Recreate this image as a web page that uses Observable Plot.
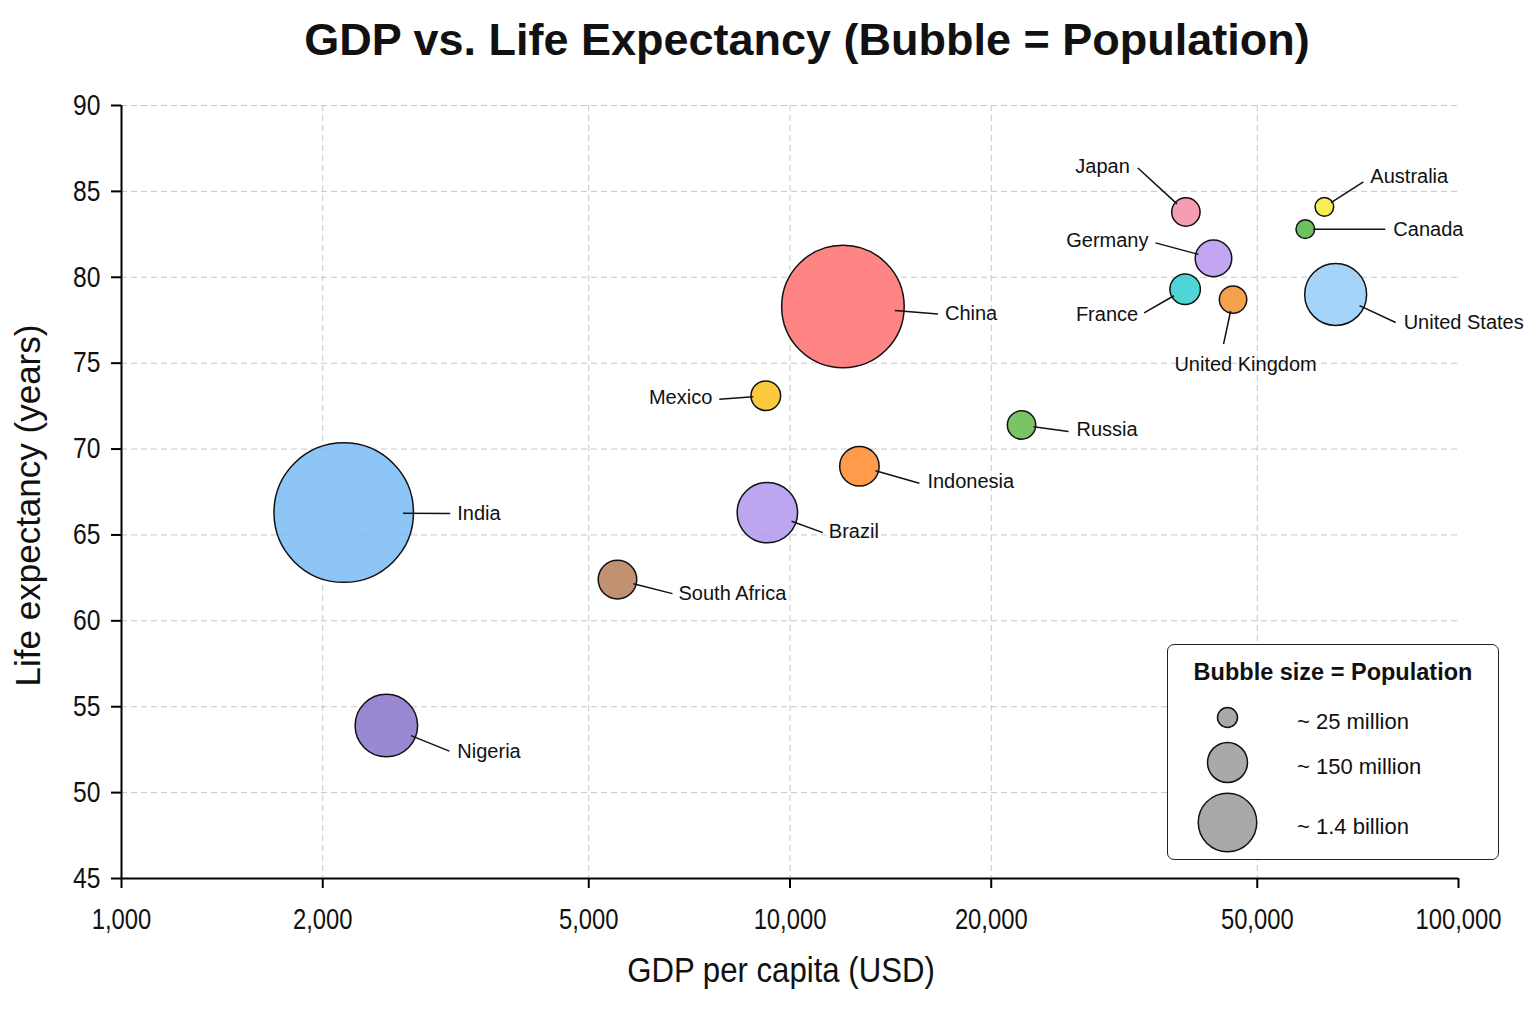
<!DOCTYPE html>
<html>
<head>
<meta charset="utf-8">
<script src="https://cdn.jsdelivr.net/npm/d3@7"></script>
<script src="https://cdn.jsdelivr.net/npm/@observablehq/plot@0.6"></script>
<style>
  html, body { margin: 0; padding: 0; background: #fff; }
  #page { position: relative; width: 1536px; height: 1024px; overflow: hidden; background: #fff; }
  #title {
    box-sizing: border-box; height: 70px; padding-top: 17px; padding-left: 78px; text-align: center;
    font: bold 45px/45px "Liberation Sans", Arial, sans-serif; color: #111;
  }
  #chart svg { display: block; }
  #legend {
    position: absolute; left: 1167px; top: 644px; width: 332px; height: 216px;
    box-sizing: border-box; border: 1.5px solid #222; border-radius: 7px; background: #fff;
  }
  #legend svg { position: absolute; left: 0; top: 0; }
  #legend-title {
    position: absolute; left: 0; right: 0; top: 16px; z-index: 1; text-align: center;
    font: bold 23.5px/23.5px "Liberation Sans", Arial, sans-serif; color: #111;
  }
</style>
</head>
<body>
<div id="page">
  <div id="title">GDP vs. Life Expectancy (Bubble = Population)</div>
  <div id="chart"></div>
  <div id="legend"><div id="legend-title">Bubble size = Population</div></div>
</div>
<script>
// ---- data -------------------------------------------------------------
const countries = [
  "India", "China", "United States", "Brazil", "Nigeria", "Indonesia", "Mexico", "Russia",
  "South Africa", "Japan", "Australia", "Canada", "Germany", "France", "United Kingdom"
];
const gdpPerCapita = [2150, 12000, 65500, 9250, 2490, 12700, 9200, 22200, 5520, 39100, 63000, 59000, 43000, 39000, 46000];
const lifeExpectancy = [66.3, 78.3, 79.0, 66.3, 53.9, 69.0, 73.1, 71.4, 62.4, 83.8, 84.1, 82.8, 81.1, 79.3, 78.7];
const populationMillions = [1400, 1080, 276, 263, 281, 112, 63, 58, 107, 58, 25, 25, 96, 67, 54];
const bubbleColors = [
  "#7ebdf6", "#ff7474", "#9acdf7", "#b49aee", "#8d77cc", "#ff8d31", "#fac223", "#69bc51",
  "#b9825d", "#f68fa9", "#f8ea3e", "#59b748", "#bb9aef", "#37cfcf", "#f59334"
];
const xTickValues = [1000, 2000, 5000, 10000, 20000, 50000, 100000];
const yTickValues = [45, 50, 55, 60, 65, 70, 75, 80, 85, 90];
const legendPopulations = [25, 150, 1400];
const legendLabels = ["~ 25 million", "~ 150 million", "~ 1.4 billion"];
const xTitle = "GDP per capita (USD)";
const yTitle = "Life expectancy (years)";

// ---- annotation layout (pixel offsets from each bubble centre) ---------
// dx/dy: where the label is anchored; lx/ly: where its leader line ends.
const labelLayout = {
  "India":          {dx: 113.5, dy: 1,     lx: 106.5, ly: 1,    anchor: "start"},
  "China":          {dx: 102,   dy: 7.5,   lx: 95,    ly: 7.5,  anchor: "start"},
  "United States":  {dx: 68,    dy: 28,    lx: 60,    ly: 28,   anchor: "start"},
  "Brazil":         {dx: 61.5,  dy: 19,    lx: 55.5,  ly: 20,   anchor: "start"},
  "Nigeria":        {dx: 71,    dy: 25.5,  lx: 63,    ly: 25.5, anchor: "start"},
  "Indonesia":      {dx: 68,    dy: 15,    lx: 60,    ly: 17,   anchor: "start"},
  "Mexico":         {dx: -53.5, dy: 1.5,   lx: -46.5, ly: 3.5,  anchor: "end"},
  "Russia":         {dx: 55,    dy: 4.5,   lx: 47,    ly: 6.5,  anchor: "start"},
  "South Africa":   {dx: 61,    dy: 14,    lx: 55,    ly: 14,   anchor: "start"},
  "Japan":          {dx: -56,   dy: -45,   lx: -48,   ly: -44,  anchor: "end"},
  "Australia":      {dx: 46,    dy: -30,   lx: 39,    ly: -25,  anchor: "start"},
  "Canada":         {dx: 88,    dy: 0,     lx: 80,    ly: 0,    anchor: "start"},
  "Germany":        {dx: -65,   dy: -17.5, lx: -58,   ly: -15.5, anchor: "end"},
  "France":         {dx: -47,   dy: 25.5,  lx: -41,   ly: 23.5, anchor: "end"},
  "United Kingdom": {dx: 12.5,  dy: 64.5,  lx: -9.5,  ly: 44.5, anchor: "middle"}
};

// ---- frame & scales ------------------------------------------------------
const W = 1536, H = 954;
const M = {top: 35, right: 78, bottom: 146, left: 121};
const SANS = '"Liberation Sans", Arial, sans-serif';
const INK = "#111";

const xOptions = {type: "log", domain: [1000, 100000], range: [M.left, W - M.right]};
const yOptions = {type: "linear", domain: [45, 90], range: [H - M.bottom, M.top]};
const rOptions = {type: "sqrt", domain: [0, 1400], range: [0, 69.75]};

const xs = Plot.scale({x: xOptions});
const ys = Plot.scale({y: yOptions});
const rs = Plot.scale({r: rOptions});

const rows = countries.map((name, i) => ({
  name,
  gdp: gdpPerCapita[i],
  life: lifeExpectancy[i],
  pop: populationMillions[i],
  color: bubbleColors[i]
}));

// Leader lines start just inside each bubble and run out to the label.
const notes = rows.map(d => {
  const L = labelLayout[d.name];
  const px = xs.apply(d.gdp), py = ys.apply(d.life);
  const k = rs.apply(d.pop) * 0.85 / Math.hypot(L.lx, L.ly);
  return {
    name: d.name,
    anchor: L.anchor,
    x1: xs.invert(px + L.lx * k), y1: ys.invert(py + L.ly * k),
    x2: xs.invert(px + L.lx),     y2: ys.invert(py + L.ly),
    tx: xs.invert(px + L.dx),     ty: ys.invert(py + L.dy)
  };
});

const labelMarks = ["start", "end", "middle"].map(anchor =>
  Plot.text(notes.filter(n => n.anchor === anchor), {
    x: "tx", y: "ty", text: "name", textAnchor: anchor,
    fontSize: 20, fontFamily: SANS, fill: INK
  })
);

const gridStyle = {stroke: "#c6c6c6", strokeOpacity: 1, strokeWidth: 1, strokeDasharray: "6,4"};

const chart = Plot.plot({
  width: W,
  height: H,
  marginTop: M.top, marginRight: M.right, marginBottom: M.bottom, marginLeft: M.left,
  x: xOptions,
  y: yOptions,
  r: rOptions,
  style: {fontFamily: SANS, fontSize: "20px", background: "transparent", color: INK},
  marks: [
    Plot.gridX(xTickValues.filter(v => v > 1000 && v < 100000), gridStyle),
    Plot.gridY(yTickValues.filter(v => v > 45), gridStyle),
    Plot.ruleX([1000], {stroke: "#000", strokeWidth: 2}),
    Plot.ruleY([45], {stroke: "#000", strokeWidth: 2}),
    Plot.axisX(xTickValues, {
      tickFormat: d3.format(","), tickSize: 10, tickPadding: 20, label: null,
      stroke: "#000", strokeWidth: 2, fill: INK, fontSize: 29, fontFamily: SANS
    }),
    Plot.axisY(yTickValues, {
      tickSize: 10, tickPadding: 11, label: null,
      stroke: "#000", strokeWidth: 2, fill: INK, fontSize: 29, fontFamily: SANS
    }),
    Plot.text([xTitle], {
      text: d => d, frameAnchor: "bottom", lineAnchor: "middle", textAnchor: "middle",
      dx: -9, dy: 92,
      fontSize: 35, fontFamily: SANS, fill: INK
    }),
    Plot.text([yTitle], {
      text: d => d, frameAnchor: "left", lineAnchor: "middle", textAnchor: "middle",
      rotate: -90, dx: -93, dy: 13.5,
      fontSize: 35, fontFamily: SANS, fill: INK
    }),
    Plot.dot(rows, {
      x: "gdp", y: "life", r: "pop", fill: "color", fillOpacity: 0.88,
      stroke: INK, strokeWidth: 1.5
    }),
    Plot.link(notes, {x1: "x1", y1: "y1", x2: "x2", y2: "y2", stroke: INK, strokeWidth: 1.5}),
    ...labelMarks
  ]
});
document.getElementById("chart").append(chart);

// Axis text is set in a condensed cut: squeeze the glyphs horizontally.
function condense(elements, factor) {
  elements.forEach(t => {
    const natural = t.getComputedTextLength();
    t.setAttribute("textLength", natural * factor);
    t.setAttribute("lengthAdjust", "spacingAndGlyphs");
  });
}
condense(chart.querySelectorAll('g[aria-label="x-axis tick label"] text'), 0.82);
condense(chart.querySelectorAll('g[aria-label="y-axis tick label"] text'), 0.85);
condense([...chart.querySelectorAll("text")].filter(t => t.textContent === xTitle), 0.89);

// ---- size legend ---------------------------------------------------------
const legendRows = legendPopulations.map((p, i) => ({p, label: legendLabels[i]}));
const legend = Plot.plot({
  width: 329,
  height: 213,
  marginTop: 0, marginRight: 0, marginBottom: 0, marginLeft: 59,
  y: {type: "log", domain: legendPopulations, range: [72, 117, 177], axis: null},
  r: {type: "log", domain: legendPopulations, range: [10, 20, 29.25]},
  style: {fontFamily: SANS, background: "transparent", color: INK},
  marks: [
    Plot.dot(legendRows, {
      y: "p", r: "p", frameAnchor: "left",
      fill: "#a9a9a9", stroke: INK, strokeWidth: 1.5
    }),
    Plot.text(legendRows, {
      y: "p", text: "label", frameAnchor: "left", textAnchor: "start",
      dx: 69.5, dy: 4, fontSize: 22, fontFamily: SANS, fill: INK
    })
  ]
});
document.getElementById("legend").append(legend);
</script>
</body>
</html>
